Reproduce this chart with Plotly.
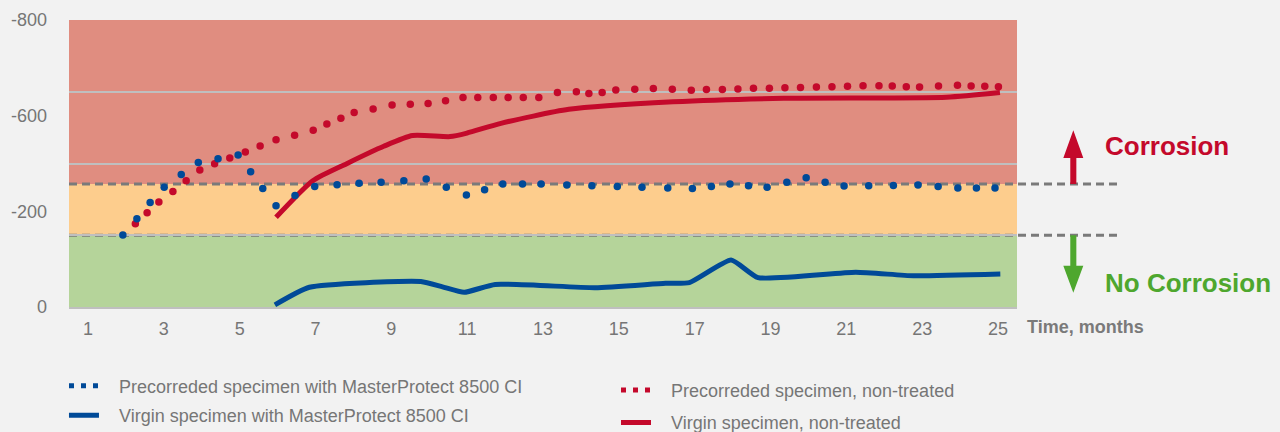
import plotly.graph_objects as go

# ---------------- data ----------------
months_tick = [1, 3, 5, 7, 9, 11, 13, 15, 17, 19, 21, 23, 25]
y_tick_vals = [-800, -533.33, -266.67, 0]
y_tick_text = ["-800", "-600", "-200", "0"]
y_grid = [-800, -600, -400, -200, 0]

# Precorroded specimen with MasterProtect 8500 CI (dotted blue)
pre_mp_x = [1.92, 2.29, 2.64, 3.01, 3.46, 3.91, 4.43, 4.96, 5.29, 5.61, 5.96, 6.46, 6.98,
            7.57, 8.15, 8.73, 9.33, 9.92, 10.45, 10.98, 11.46, 11.94, 12.46, 12.95, 13.63,
            14.29, 14.96, 15.61, 16.29, 16.94, 17.44, 17.93, 18.42, 18.91, 19.43, 19.94,
            20.44, 20.94, 21.59, 22.24, 22.89, 23.42, 23.94, 24.43, 24.92]
pre_mp_y = [-201, -246, -291, -334, -369, -403, -413, -424, -377, -330, -282, -311, -336,
            -341, -345, -348, -352, -357, -334, -312, -327, -343, -343, -343, -340,
            -338, -336, -334, -332, -330, -336, -343, -338, -334, -348, -360,
            -348, -337, -338, -339, -340, -336, -332, -332, -332]

# Precorroded specimen, non-treated (dotted red)
pre_nt_x = [2.25, 2.56, 2.87, 3.24, 3.59, 3.95, 4.34, 4.74, 5.15, 5.54, 5.96, 6.45, 6.94,
            7.30, 7.67, 8.02, 8.52, 9.02, 9.50, 9.97, 10.43, 10.89, 11.28, 11.69, 12.08,
            12.48, 12.89, 13.38, 13.88, 14.21, 14.56, 14.92, 15.42, 15.91, 16.41, 16.91,
            17.31, 17.73, 18.14, 18.55, 18.97, 19.38, 19.79, 20.21, 20.62, 21.03, 21.44,
            21.86, 22.21, 22.58, 22.93, 23.43, 23.93, 24.29, 24.65, 25.01]
pre_nt_y = [-232, -263, -293, -322, -352, -382, -399, -415, -432, -449, -466, -479, -493,
            -510, -526, -542, -552, -563, -565, -567, -575, -584, -584, -584, -584,
            -584, -584, -598, -600, -595, -598, -605, -607, -609, -607, -604,
            -606, -606, -608, -610, -610, -611, -612, -613, -614, -615, -617,
            -617, -616, -614, -613, -616, -618, -616, -615, -614]

# Virgin specimen with MasterProtect 8500 CI (solid blue)
vir_mp_x = [5.93, 6.84, 9.78, 10.35, 10.92, 11.74, 14.38, 16.23, 16.86, 17.96, 18.67,
            21.25, 22.77, 25.06]
vir_mp_y = [-6, -55, -71, -56, -41, -63, -54, -66, -68, -131, -82, -97, -87, -92]

# Virgin specimen, non-treated (solid red)
vir_nt_x = [5.96, 6.93, 7.85, 8.80, 9.56, 10.55, 11.0, 11.89, 13.68, 16.43, 19.35, 23.64, 25.05]
vir_nt_y = [-250, -352, -401, -448, -478, -475, -485, -512, -551, -572, -582, -585, -598]

names = ["Precorreded specimen with MasterProtect 8500 CI",
         "Virgin specimen with MasterProtect 8500 CI",
         "Precorreded specimen, non-treated",
         "Virgin specimen, non-treated"]

# thresholds / zones
corrosion_lim = -343
no_corrosion_lim = -200

# ---------------- styling ----------------
RED = "#C4092B"
BLUE = "#004A98"
GREEN = "#4EA72E"
FONT = "Liberation Sans, Arial, sans-serif"
GREY_TXT = "#767676"
BG = "#F2F2F2"
PAD = "\u00a0\u00a0\u00a0"  # gap between legend symbol and text

fig = go.Figure()

# data traces (no legend)
fig.add_trace(go.Scatter(x=vir_nt_x, y=vir_nt_y, mode="lines", showlegend=False,
                         line=dict(color=RED, width=5, shape="spline", smoothing=0.6)))
fig.add_trace(go.Scatter(x=vir_mp_x, y=vir_mp_y, mode="lines", showlegend=False,
                         line=dict(color=BLUE, width=5, shape="spline", smoothing=0.5)))
fig.add_trace(go.Scatter(x=pre_nt_x, y=pre_nt_y, mode="markers", showlegend=False,
                         marker=dict(color=RED, size=7.5)))
fig.add_trace(go.Scatter(x=pre_mp_x, y=pre_mp_y, mode="markers", showlegend=False,
                         marker=dict(color=BLUE, size=7.5)))

# legend entries
dot_dash = "5px,7px"
fig.add_trace(go.Scatter(x=[None], y=[None], mode="lines", name=PAD + names[0], legend="legend",
                         legendgroup="a", line=dict(color=BLUE, width=5, dash=dot_dash)))
fig.add_trace(go.Scatter(x=[None], y=[None], mode="lines", name=PAD + names[1], legend="legend",
                         legendgroup="b", line=dict(color=BLUE, width=5)))
fig.add_trace(go.Scatter(x=[None], y=[None], mode="lines", name=PAD + names[2], legend="legend2",
                         legendgroup="c", line=dict(color=RED, width=5, dash=dot_dash)))
fig.add_trace(go.Scatter(x=[None], y=[None], mode="lines", name=PAD + names[3], legend="legend2",
                         legendgroup="d", line=dict(color=RED, width=5)))

shapes = []
# zone bands
shapes.append(dict(type="rect", xref="paper", yref="y", x0=0, x1=1, y0=-800, y1=corrosion_lim,
                   fillcolor="#E08D80", line_width=0, layer="below"))
shapes.append(dict(type="rect", xref="paper", yref="y", x0=0, x1=1, y0=corrosion_lim,
                   y1=no_corrosion_lim, fillcolor="#FDCD8D", line_width=0, layer="below"))
shapes.append(dict(type="rect", xref="paper", yref="y", x0=0, x1=1, y0=no_corrosion_lim, y1=0,
                   fillcolor="#B5D49A", line_width=0, layer="below"))
# dashed threshold lines
for yv in (corrosion_lim, no_corrosion_lim):
    shapes.append(dict(type="line", xref="paper", yref="y", x0=0, x1=1.1055, y0=yv, y1=yv,
                       line=dict(color="#7A7A7A", width=3, dash="8px,5px"), layer="between"))

# arrows
ax_c = 1.0594
hw = 0.01055   # head half-width (paper)
sw = 0.0032    # shaft half-width (paper)
shapes.append(dict(type="path", xref="paper", yref="y", fillcolor=RED, line_width=0,
                   path=(f"M{ax_c - sw},{corrosion_lim} L{ax_c - sw},-415 L{ax_c - hw},-415 "
                         f"L{ax_c},-493 L{ax_c + hw},-415 L{ax_c + sw},-415 "
                         f"L{ax_c + sw},{corrosion_lim} Z")))
shapes.append(dict(type="path", xref="paper", yref="y", fillcolor=GREEN, line_width=0,
                   path=(f"M{ax_c - sw},{no_corrosion_lim} L{ax_c - sw},-115 L{ax_c - hw},-115 "
                         f"L{ax_c},-40 L{ax_c + hw},-115 L{ax_c + sw},-115 "
                         f"L{ax_c + sw},{no_corrosion_lim} Z")))

annotations = [
    dict(text="Corrosion", xref="paper", yref="y", x=1.0907, y=-450, xanchor="left",
         yanchor="middle", showarrow=False, font=dict(family=FONT, size=26, color=RED, weight="bold")),
    dict(text="No Corrosion", xref="paper", yref="y", x=1.0907, y=-66, xanchor="left",
         yanchor="middle", showarrow=False,
         font=dict(family=FONT, size=26, color=GREEN, weight="bold")),
    dict(text="Time, months", xref="paper", yref="paper", x=1.0084, y=-0.0714, xanchor="left",
         yanchor="middle", showarrow=False,
         font=dict(family=FONT, size=18, color="#7A7A7A", weight="bold")),
]

fig.update_layout(
    width=1280, height=432,
    margin=dict(l=69, r=263, t=20, b=125, autoexpand=False),
    paper_bgcolor=BG, plot_bgcolor=BG,
    font=dict(family=FONT, size=18, color=GREY_TXT),
    shapes=shapes, annotations=annotations,
    xaxis=dict(range=[0.5, 25.5], tickvals=months_tick, showgrid=False, zeroline=False,
               showline=True, linecolor="#BFBFBF", linewidth=2, ticks="",
               tickfont=dict(size=18, color=GREY_TXT), ticklabelstandoff=4),
    yaxis=dict(range=[0, -800], tickvals=y_tick_vals, ticktext=y_tick_text, showgrid=False,
               zeroline=False, ticks="", tickfont=dict(size=18, color=GREY_TXT),
               ticklabelstandoff=21,
               minor=dict(tickvals=y_grid, showgrid=True, gridcolor="#BFBFBF", gridwidth=2)),
    legend=dict(x=-0.0053, y=-0.211, xanchor="left", yanchor="top",
                bgcolor="rgba(0,0,0,0)", font=dict(size=18, color=GREY_TXT), itemwidth=30,
                tracegroupgap=3, traceorder="grouped"),
    legend2=dict(x=0.577, y=-0.226, xanchor="left", yanchor="top", bgcolor="rgba(0,0,0,0)",
                 font=dict(size=18, color=GREY_TXT), itemwidth=30, tracegroupgap=6,
                 traceorder="grouped"),
)

fig.write_html("out.html", config={"displayModeBar": False},
               post_script="document.body.style.margin='0px';"
                           "document.body.style.background='#F2F2F2';")
